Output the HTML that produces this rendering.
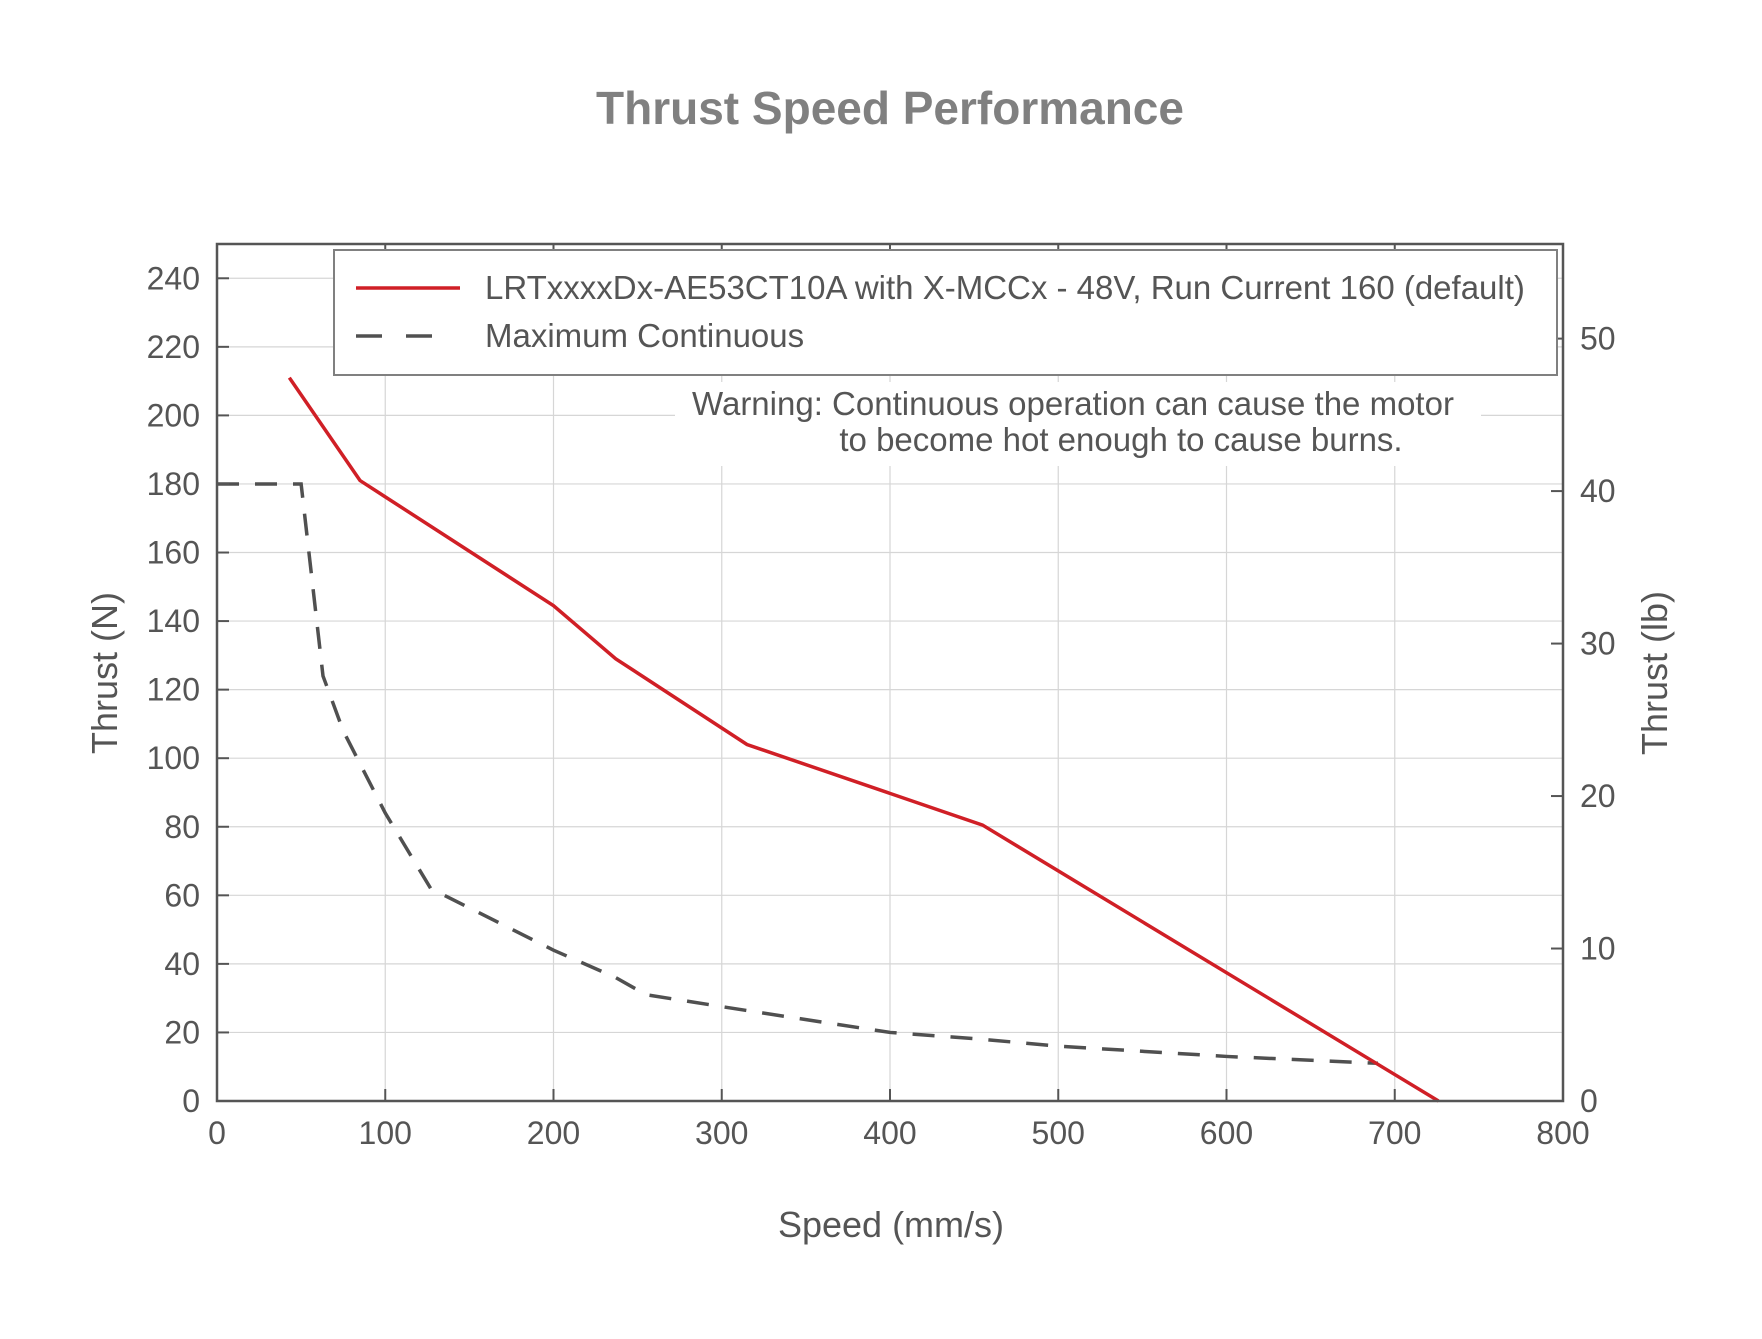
<!DOCTYPE html>
<html><head><meta charset="utf-8"><style>
body{margin:0;background:#fff;}
svg text{font-family:"Liberation Sans",Arial,sans-serif;fill:#555;}
</style></head><body>
<svg id="chart" width="1762" height="1334" viewBox="0 0 1762 1334">
<rect width="1762" height="1334" fill="#fff"/>
<text x="890" y="124" text-anchor="middle" font-size="46" font-weight="bold" style="fill:#808080">Thrust Speed Performance</text>
<g id="grid"></g>
<g id="series"></g>
<g id="axes"></g>
</svg>
<script>
const xTicks=[0,100,200,300,400,500,600,700,800];
const yTicks=[0,20,40,60,80,100,120,140,160,180,200,220,240];
const lbTicks=[0,10,20,30,40,50];
const redX=[43,85,200,237,315,455,726];
const redY=[211,181,144.5,129,104,80.5,0];
const dashX=[0,50,63,75,100,127,200,237,255,320,400,455,500,600,690];
const dashY=[180,180,124,108,84,62,44,36,31,26,20,18,16,13,11];
const L=217,R=1563,T=244,B=1101,XMAX=800,YMAX=250;
const sx=v=>L+(R-L)*v/XMAX, sy=v=>B-(B-T)*v/YMAX, slb=v=>sy(v*4.448);
const NS='http://www.w3.org/2000/svg';
function mk(tag,attrs,parent,text){const e=document.createElementNS(NS,tag);for(const k in attrs)e.setAttribute(k,attrs[k]);if(text!==undefined)e.textContent=text;parent.appendChild(e);return e;}
const grid=document.getElementById('grid'),ser=document.getElementById('series'),ax=document.getElementById('axes');
xTicks.forEach(v=>{const l=mk('line',{x1:sx(v),x2:sx(v),y1:T,y2:B,stroke:'#d6d6d6','stroke-width':1.2},grid);

});
yTicks.forEach(v=>{const l=mk('line',{x1:L,x2:R,y1:sy(v),y2:sy(v),stroke:'#d6d6d6','stroke-width':1.2},grid);

});
const wb=mk('rect',{x:675,y:382,width:806,height:84,fill:'#fff'},grid);


const w1=mk('text',{x:1073,y:415,'text-anchor':'middle','font-size':33},grid,'Warning: Continuous operation can cause the motor');


const w2=mk('text',{x:1121,y:451,'text-anchor':'middle','font-size':33},grid,'to become hot enough to cause burns.');


const dp=mk('polyline',{points:dashX.map((x,i)=>sx(x)+','+sy(dashY[i])).join(' '),fill:'none',stroke:'#505050','stroke-width':3.5,'stroke-dasharray':'22,16'},ser);


const rp=mk('polyline',{points:redX.map((x,i)=>sx(x)+','+sy(redY[i])).join(' '),fill:'none',stroke:'#d01f26','stroke-width':3.5},ser);


const fr=mk('rect',{x:L,y:T,width:R-L,height:B-T,fill:'none',stroke:'#555','stroke-width':2.5},ax);


xTicks.forEach(v=>{mk('line',{x1:sx(v),x2:sx(v),y1:B,y2:B-12,stroke:'#555','stroke-width':2},ax);mk('line',{x1:sx(v),x2:sx(v),y1:T,y2:T+12,stroke:'#555','stroke-width':2},ax);
const t=mk('text',{x:sx(v),y:B+43,'text-anchor':'middle','font-size':32},ax,String(v));

});
yTicks.forEach(v=>{mk('line',{x1:L,x2:L+12,y1:sy(v),y2:sy(v),stroke:'#555','stroke-width':2},ax);
const t=mk('text',{x:L-17,y:sy(v)+11,'text-anchor':'end','font-size':32},ax,String(v));

});
lbTicks.forEach(v=>{mk('line',{x1:R,x2:R-12,y1:slb(v),y2:slb(v),stroke:'#555','stroke-width':2},ax);
const t=mk('text',{x:R+17,y:slb(v)+11,'text-anchor':'start','font-size':32},ax,String(v));

});
const yl=mk('text',{x:0,y:0,transform:'translate(117,673) rotate(-90)','text-anchor':'middle','font-size':36},ax,'Thrust (N)');


const yl2=mk('text',{x:0,y:0,transform:'translate(1667,673) rotate(-90)','text-anchor':'middle','font-size':36},ax,'Thrust (lb)');


const xl=mk('text',{x:891,y:1237,'text-anchor':'middle','font-size':36},ax,'Speed (mm/s)');


const lg=mk('g',{},ax);


mk('rect',{x:334,y:250,width:1223,height:125,fill:'#fff',stroke:'#808080','stroke-width':2},lg);
mk('line',{x1:356,x2:460,y1:288,y2:288,stroke:'#d01f26','stroke-width':3.5},lg);
mk('line',{x1:356,x2:434,y1:336,y2:336,stroke:'#505050','stroke-width':3.5,'stroke-dasharray':'26,24'},lg);
const le1=mk('text',{x:485,y:299,'font-size':33},lg,'LRTxxxxDx-AE53CT10A with X-MCCx - 48V, Run Current 160 (default)');


const le2=mk('text',{x:485,y:347,'font-size':33},lg,'Maximum Continuous');


</script>
</body></html>
